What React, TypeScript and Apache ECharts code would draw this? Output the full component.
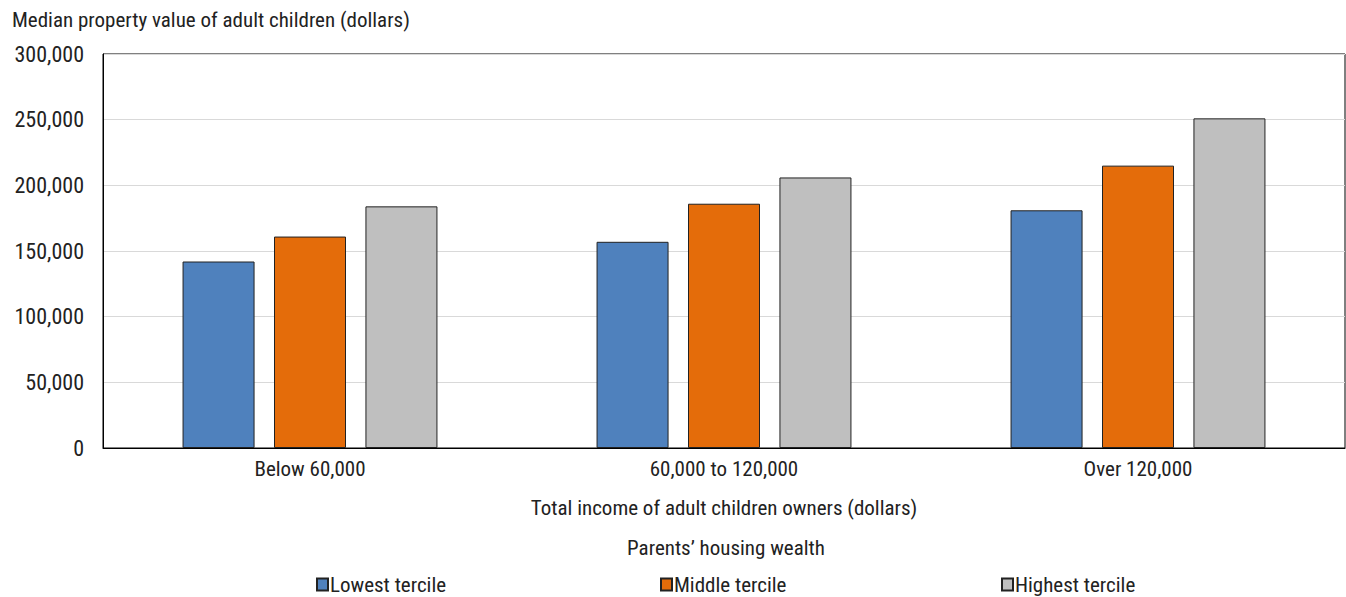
import React, { useEffect, useRef } from "react";
import * as echarts from "echarts";

const categories = ["Below 60,000", "60,000 to 120,000", "Over 120,000"];
const lowestTercile = [142000, 157000, 181000];
const middleTercile = [161000, 186000, 215000];
const highestTercile = [184000, 206000, 251000];
const seriesNames = ["Lowest tercile", "Middle tercile", "Highest tercile"];
const colors = ["#4f81bd", "#e46c0a", "#bfbfbf"];

const FONT = "'Liberation Sans Narrow', 'Roboto Condensed', 'Arial Narrow', Roboto, sans-serif";
const TXT = "#222";
const FS = 21;

export default function App() {
  const ref = useRef<HTMLDivElement>(null);
  useEffect(() => {
    document.body.style.margin = "0";
    const chart = echarts.init(ref.current!, null, { renderer: "svg" });
    const data = [lowestTercile, middleTercile, highestTercile];
    const legendLefts = [316, 660, 1001];
    chart.setOption({
      animation: false,
      textStyle: { fontFamily: FONT },
      title: {
        text: "Median property value of adult children (dollars)",
        left: 7,
        top: 4,
        textStyle: { fontFamily: FONT, fontSize: FS, fontWeight: "normal", color: TXT },
      },
      graphic: [
        {
          type: "text",
          x: 726,
          y: 548,
          style: {
            text: "Parents’ housing wealth",
            font: `${FS}px ${FONT}`,
            fill: TXT,
            align: "center",
            verticalAlign: "middle",
          },
        },
      ],
      legend: seriesNames.map((n, i) => ({
        data: [n],
        left: legendLefts[i],
        top: 574,
        padding: 0,
        itemWidth: 11,
        itemHeight: 12,
        icon: "rect",
        textStyle: { fontFamily: FONT, fontSize: FS, color: TXT, padding: [0, 0, 0, -3] },
      })),
      grid: {
        left: 103,
        right: 1,
        top: 54,
        bottom: 149,
        show: true,
        borderColor: "#000",
        borderWidth: 1,
      },
      xAxis: {
        type: "category",
        data: categories,
        axisLine: { lineStyle: { color: "#000" } },
        axisTick: { show: false },
        axisLabel: { fontFamily: FONT, fontSize: FS, color: TXT, margin: 10 },
        name: "Total income of adult children owners (dollars)",
        nameLocation: "middle",
        nameGap: 49,
        nameTextStyle: { fontFamily: FONT, fontSize: FS, color: TXT },
      },
      yAxis: {
        type: "value",
        min: 0,
        max: 300000,
        interval: 50000,
        axisLine: { show: true, lineStyle: { color: "#000" } },
        axisTick: { show: false },
        splitLine: { lineStyle: { color: "#d9d9d9", width: 1 } },
        axisLabel: {
          fontFamily: FONT,
          fontSize: 22,
          color: TXT,
          margin: 19,
          formatter: (v: number) => v.toLocaleString("en-US"),
        },
      },
      series: seriesNames.map((n, i) => ({
        name: n,
        type: "bar",
        data: data[i],
        barWidth: 72,
        barGap: "27%",
        itemStyle: { color: colors[i], borderColor: "#222", borderWidth: 1 },
      })),
    });
    return () => chart.dispose();
  }, []);
  return <div ref={ref} style={{ width: 1346, height: 597 }} />;
}
